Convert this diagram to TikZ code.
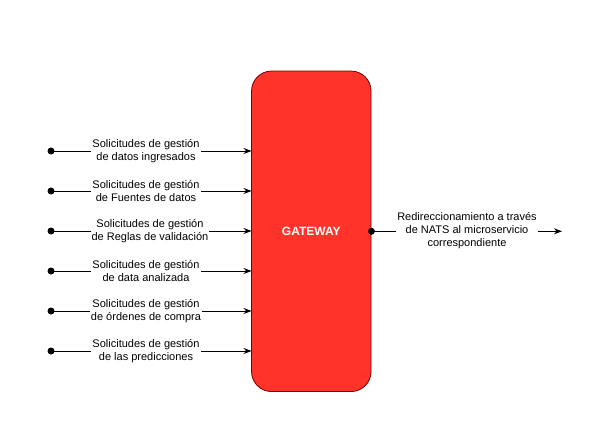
\documentclass[tikz,border=0pt]{standalone}
\usepackage{fontspec}
\setmainfont{Liberation Sans}
\usetikzlibrary{arrows.meta}
\definecolor{gwfill}{HTML}{FF3329}
\definecolor{gwdraw}{HTML}{6F0000}
\begin{document}
\begin{tikzpicture}[x=1pt,y=-1pt,
  lbl/.style={fill=white,inner sep=1pt,align=center,font=\fontsize{11}{13}\selectfont},
  conn/.style={line width=0.9pt,-{Stealth[length=8pt,width=6pt]}},
  dotc/.style={circle,fill=black,inner sep=0pt,minimum size=7pt}]
\useasboundingbox (0,0) rectangle (603,433);
\node[draw=gwdraw,fill=gwfill,rounded corners=20pt,minimum width=119.5pt,minimum height=320.5pt,inner sep=0pt,line width=0.8pt,
  font=\bfseries\fontsize{12}{14}\selectfont,text=white] (gw) at (311.3,231.3) {GATEWAY};
\foreach \i/\y/\cx/\t in {1/151/146/{Solicitudes de gestión\\de datos ingresados},
  2/191/146/{Solicitudes de gestión\\de Fuentes de datos},
  3/231/150/{Solicitudes de gestión\\de Reglas de validación},
  4/271/146/{Solicitudes de gestión\\de data analizada},
  5/311/146/{Solicitudes de gestión\\de órdenes de compra},
  6/351/146/{Solicitudes de gestión\\de las predicciones}}{
  \node[dotc] (s\i) at (51,\y) {};
  \coordinate (e\i) at (251.5,\y);
  \draw[conn] (s\i.center) -- (e\i);
  \node[lbl] (l\i) at (\cx,\y) {\t};
}
\node[dotc] (o) at (gw.east) {};
\coordinate (oe) at (562,231.3);
\draw[conn] (o.center) -- (oe);
\node[lbl] (ol) at (467,231) {Redireccionamiento a través\\de NATS al microservicio\\correspondiente};
\end{tikzpicture}
\end{document}
